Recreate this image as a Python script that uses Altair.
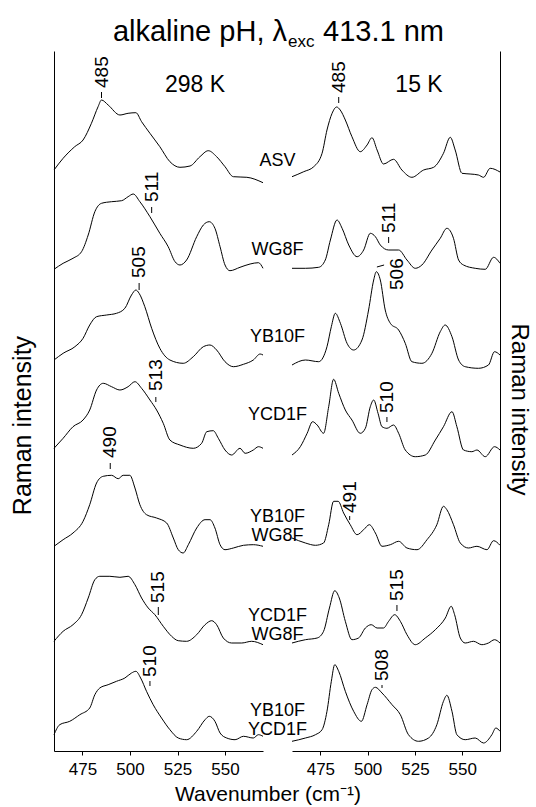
import altair as alt
import pandas as pd

FONT = "Liberation Sans"

# ---- sample rows (top to bottom) ----
SAMPLES = ["ASV", "WG8F", "YB10F", "YCD1F", "YB10F\nWG8F", "YCD1F\nWG8F", "YB10F\nYCD1F"]
ROW_OFFSET = [566, 479, 381, 293, 195, 103, 6]          # vertical stacking offset (intensity units)
LABEL_LEVEL = [590, 501, 414, 336, 234, 135.5, 40.5]     # level of the sample name between panels

# ---- 298 K spectra (wavenumber, intensity) ----
ASV_298_WN = [460, 464.8, 470.9, 475.3, 479.7, 483.2, 485, 488.5, 494.7, 499, 503.1, 506.1, 510.5, 515.7, 521, 526.3, 531.6, 536.8, 541.2, 545.6, 550, 554.4, 561.5, 570]
ASV_298_I = [15, 26.7, 38.3, 45, 61.7, 78.3, 85, 80, 70, 71.7, 72.3, 63.3, 51.7, 38.3, 23.3, 17.7, 19, 28.3, 34.3, 28.3, 18.3, 8.3, 7.7, 2.3]

WG8F_298_WN = [460, 464.8, 470, 474.5, 478, 481.5, 485, 490.3, 495.6, 499, 501.7, 505.2, 510.5, 515.7, 520.1, 523.7, 526.3, 529.8, 535.1, 538.6, 541.7, 544.7, 547.4, 550, 552.6, 557.9, 563.2, 567.6, 570]
WG8F_298_I = [2.7, 8.7, 13.7, 20.3, 37, 60.3, 68.7, 70.3, 71.3, 75.3, 78, 70.3, 55.3, 38.7, 25.3, 10.3, 7, 12, 35.3, 47, 50.3, 43.7, 25.3, 7, 1.3, 4.7, 8, 9.3, 3.7]

YB10F_298_WN = [460, 464.8, 471, 475.3, 478.8, 482.4, 487.7, 492.9, 497.3, 500.8, 503.1, 504.8, 507.8, 511.4, 515.7, 521, 528, 533.3, 538.6, 542.1, 545.6, 550, 554.4, 559.7, 564.9, 568.5, 570]
YB10F_298_I = [10, 16.7, 23.3, 31.7, 45, 53.3, 55, 56.7, 61.7, 75, 80, 76.7, 63.3, 41.7, 21.7, 10, 6.7, 13.3, 23.3, 25, 20, 8.3, 3.3, 5.7, 10, 16, 15]

YCD1F_298_WN = [460, 464.8, 470, 475.3, 478.8, 482.4, 485.9, 490.3, 494.7, 499, 502.6, 506.1, 510.5, 514, 517.5, 521, 526.3, 533.3, 537.7, 540.4, 543.8, 546.5, 550, 553.5, 557.9, 560.6, 564.9, 567.6, 570]
YCD1F_298_I = [9.7, 19.7, 31.3, 38, 48, 68, 74.7, 71.3, 68, 71.3, 76.3, 69.7, 58, 48, 34.7, 18, 13, 9.7, 14.7, 26.3, 27.3, 19.7, 8, 3, 9.7, 4.7, 8, 11.3, 9.7]

YBWG_298_WN = [460, 464.8, 470, 475.3, 478.8, 482.4, 485.9, 490.3, 493.8, 496.4, 499.9, 502.6, 505.2, 508.7, 514, 519.3, 522.8, 525.4, 528, 530.7, 535.1, 539.5, 542.1, 544.7, 547.4, 550, 554.4, 559.7, 564.9, 570]
YBWG_298_I = [9.7, 16.3, 23, 34.7, 51.3, 73, 79.7, 80.7, 77.3, 80.7, 80.7, 68, 51.3, 41.3, 38, 33, 18, 6.3, 3, 11.3, 28, 36.3, 36.3, 28, 11.3, 6.3, 8, 10.7, 11.3, 9.7]

YCWG_298_WN = [460, 464.8, 470, 474.5, 478, 481.5, 484.1, 489.4, 494.7, 499, 502.6, 506.1, 509.6, 513.1, 517.5, 521.9, 525.4, 529.8, 535.1, 539.5, 543, 545.6, 549.1, 553.5, 558.8, 564, 570]
YCWG_298_I = [6.7, 16.7, 23.3, 33.3, 50, 68.3, 71.7, 71.7, 70.7, 71.7, 63.3, 50, 40, 33.3, 21.7, 11.7, 7.3, 6.7, 13.3, 23.3, 27.3, 23.3, 10, 5, 5, 6.7, 3.3]

YBYC_298_WN = [460, 463, 468.3, 473.6, 478.8, 481.5, 484.1, 488.5, 492.9, 497.3, 500.8, 503.1, 505.6, 508.7, 512.2, 516.6, 521, 525.4, 529.8, 535.1, 539.5, 541.7, 544.7, 547.4, 550.9, 555.3, 559.7, 564.9, 567.6, 570]
YBYC_298_I = [10.3, 20.3, 23.7, 30.3, 37, 50.3, 57, 60.3, 63.7, 67, 72, 73.7, 67, 53.7, 40.3, 27, 15.3, 7, 5.3, 13.7, 25.3, 28.7, 23.7, 12, 7, 5.3, 8.7, 7, 10.3, 8.7]

# ---- 15 K spectra (wavenumber, intensity) ----
ASV_15_WN = [460, 466.2, 471.5, 475.9, 478.5, 481.2, 483.6, 485.5, 488.2, 491.7, 496.1, 499.7, 502.3, 505, 508.4, 513.7, 518.1, 523.4, 529.6, 534.9, 540.1, 543.7, 546.3, 549.9, 554.2, 558.6, 561.3, 564.8, 570]
ASV_15_I = [8.3, 13.3, 18.3, 31.7, 55, 71.7, 78, 75, 65, 48.3, 33.3, 40, 47.3, 35, 21, 25.7, 15, 7.7, 15, 17.7, 31.7, 47.7, 35, 11.7, 11, 10, 7.7, 16.7, 13]

WG8F_15_WN = [460, 467.1, 474.1, 477.6, 480.3, 483.8, 486.5, 490, 494.4, 497.9, 501.4, 504.1, 506.7, 511.1, 516.4, 520.8, 525.2, 528.7, 534, 538.4, 541.9, 545.4, 548.1, 550.7, 556.9, 562.2, 566.6, 570]
WG8F_15_I = [3.7, 3.7, 4.7, 12, 32, 52, 43.7, 27, 15.3, 22, 38.7, 35.3, 27, 22, 22, 12, 3.7, 7, 22, 33.7, 43.7, 33.7, 12, 7, 3.7, 2.7, 14.7, 8.7]

YB10F_15_WN = [460, 467.1, 474.1, 478.5, 480.8, 482.9, 485.6, 489.1, 492.6, 497, 500.5, 503.2, 504.6, 506.7, 509.3, 512, 516.4, 519.9, 523.4, 528.7, 534, 538.4, 541, 544.6, 548.1, 551.6, 558.6, 563.9, 567.1, 570]
YB10F_15_I = [5, 10, 8.3, 23.3, 43.3, 56.7, 46.7, 26.7, 20, 30, 60, 90, 98.3, 90, 60, 46.7, 40, 26.7, 8.3, 6.7, 16.7, 38.3, 45, 33.3, 10, 3.3, 1.7, 5, 18.3, 15]

YCD1F_15_WN = [460, 464.4, 468, 470.9, 473.3, 476.7, 479.4, 482, 484.7, 488.2, 491.7, 496.1, 498.8, 501.4, 503.2, 505.5, 507.6, 510.2, 513.7, 516.4, 519.9, 525.2, 530.5, 535.8, 540.1, 544.6, 547.2, 550.7, 555.1, 557.8, 562.2, 567.1, 570]
YCD1F_15_I = [3, 11.3, 24.7, 36.3, 33, 24.7, 51.3, 78.7, 64.7, 48, 38, 24.7, 29.7, 51.3, 58, 44.7, 31.3, 29.7, 33, 24.7, 8, 1.3, 3, 18, 31.3, 46.3, 31.3, 8, 6.3, 8, 1.3, 11.3, 8]

YBWG_15_WN = [460, 467.1, 472.4, 476.7, 479.4, 482, 484.4, 487.3, 490.8, 494.4, 497.9, 500.9, 504.1, 507.6, 512, 516.4, 520.8, 526.1, 531.4, 536.6, 540.1, 541.9, 545.4, 549, 553.3, 557.8, 563.1, 566.6, 570]
YBWG_15_I = [18, 13, 10.7, 13, 31.3, 54.7, 54.7, 43, 31.3, 21.3, 26.3, 31.3, 23, 9.7, 11.3, 14.7, 8, 6.3, 16.3, 31.3, 49.7, 46.3, 31.3, 13, 8, 9.7, 6.3, 15.3, 10.7]

YCWG_15_WN = [460, 467.1, 473.3, 476.7, 479.8, 482.6, 485, 488.2, 491.7, 495.2, 498.8, 501.9, 505, 508.4, 511.1, 514.3, 517.3, 520.8, 525.2, 530.5, 535.8, 541.1, 544.2, 546, 549, 551.6, 556, 560.4, 563.9, 567.1, 570]
YCWG_15_I = [5, 8.3, 10, 16.7, 40, 57.3, 50, 26.7, 8.3, 10, 20, 23.3, 20, 20, 26.7, 33.3, 26.7, 13.3, 3.3, 10, 18.3, 30, 41.7, 33.3, 10, 5, 6.7, 3.3, 5, 8.3, 5]

YBYC_15_WN = [460, 467.1, 472.4, 475.9, 478.5, 480.8, 482.6, 484.7, 488.2, 492.6, 496.7, 499.7, 502.3, 504.1, 507.6, 512.9, 517.3, 521.6, 526.9, 532.2, 536.6, 540.1, 541.9, 544.6, 547.2, 551.6, 556.9, 561.3, 565.7, 567.8, 570]
YBYC_15_I = [3.7, 7, 10.3, 15.3, 33.7, 63.7, 80.3, 73.7, 53.7, 33.7, 23.7, 40.3, 55.3, 57.7, 52, 40.3, 30.3, 10.3, 3.7, 7, 20.3, 43.7, 49.7, 33.7, 10.3, 5.3, 7, 2, 10.3, 17, 13.7]

SPECTRA_298 = [(ASV_298_WN, ASV_298_I), (WG8F_298_WN, WG8F_298_I), (YB10F_298_WN, YB10F_298_I),
               (YCD1F_298_WN, YCD1F_298_I), (YBWG_298_WN, YBWG_298_I), (YCWG_298_WN, YCWG_298_I),
               (YBYC_298_WN, YBYC_298_I)]
SPECTRA_15 = [(ASV_15_WN, ASV_15_I), (WG8F_15_WN, WG8F_15_I), (YB10F_15_WN, YB10F_15_I),
              (YCD1F_15_WN, YCD1F_15_I), (YBWG_15_WN, YBWG_15_I), (YCWG_15_WN, YCWG_15_I),
              (YBYC_15_WN, YBYC_15_I)]

# ---- peak annotations: text, leader x, leader x2, leader y, leader y2, text x, text y ----
PEAKS_298 = [("485", 485, 485, 653, 659, 485, 663),
             ("511", 511.4, 511.4, 538, 544, 511.4, 549),
             ("505", 504.8, 504.8, 461, 468, 504.8, 473),
             ("513", 513.6, 513.6, 349, 354, 513.6, 360),
             ("490", 489.6, 489.6, 282, 288, 489.6, 293),
             ("515", 514.9, 514.9, 136, 144, 514.9, 148),
             ("510", 510.5, 510.5, 65, 70, 510.5, 74)]
PEAKS_15 = [("485", 484.7, 484.7, 648, 654, 484.7, 658),
            ("511", 511.1, 511.1, 508, 514, 511.1, 518),
            ("506", 504.9, 508.7, 484, 486, 515.6, 461),
            ("510", 510.2, 510.2, 329, 334, 510.2, 338),
            ("491", 490.5, 490.5, 231, 235, 490.5, 238),
            ("515", 515.5, 515.5, 140, 146, 515.5, 150),
            ("508", 507.6, 507.6, 63, 66, 507.6, 70)]

X_DOMAIN = [460, 570]
X_TICKS = [475, 500, 525, 550]
Y_DOMAIN = [0, 700]
W_L, W_R, H = 209, 208, 700
PAGE_W, PAGE_H, ORIGIN_X, ORIGIN_Y = 536, 807, 54, 51


def spectra_frame(spectra):
    rows = []
    for k, (wn, inten) in enumerate(spectra):
        for w, v in zip(wn, inten):
            rows.append({"sample": k, "wn": w, "y": ROW_OFFSET[k] + v})
    return pd.DataFrame(rows)


def peaks_frame(peaks):
    return pd.DataFrame(peaks, columns=["text", "x", "x2", "y", "y2", "tx", "ty"])


xs = alt.Scale(domain=X_DOMAIN, nice=False, zero=False)
ys = alt.Scale(domain=Y_DOMAIN, nice=False, zero=False)

x_axis = alt.Axis(values=X_TICKS, title=None, grid=False, tickSize=4, tickColor="black",
                  domainColor="black", labelFontSize=17, labelPadding=6, labelColor="black",
                  labelFont=FONT)


def panel(spectra, peaks, y_axis):
    base = alt.Chart(spectra_frame(spectra))
    lines = base.mark_line(color="black", strokeWidth=1, interpolate="monotone").encode(
        x=alt.X("wn:Q", scale=xs, axis=x_axis),
        y=alt.Y("y:Q", scale=ys, axis=y_axis),
        detail="sample:N",
    )
    pk = alt.Chart(peaks_frame(peaks))
    leaders = pk.mark_rule(color="black", strokeWidth=1).encode(
        x=alt.X("x:Q", scale=xs), x2="x2:Q",
        y=alt.Y("y:Q", scale=ys), y2="y2:Q")
    ptext = pk.mark_text(angle=270, align="left", baseline="middle", fontSize=19,
                         font=FONT, color="black").encode(
        x=alt.X("tx:Q", scale=xs), y=alt.Y("ty:Q", scale=ys), text="text:N")
    return lines, leaders, ptext


left_y_axis = alt.Axis(title="Raman intensity", ticks=False, labels=False, grid=False,
                       domainColor="black", titleFontSize=25, titleFontWeight="normal",
                       titleFont=FONT, titlePadding=19, titleColor="black", titleY=374)
right_y_axis = alt.Axis(title="Raman intensity", orient="right", ticks=False, labels=False,
                        grid=False, domainColor="black", titleFontSize=24,
                        titleFontWeight="normal", titleFont=FONT, titlePadding=6,
                        titleColor="black", titleY=358)

l_lines, l_lead, l_text = panel(SPECTRA_298, PEAKS_298, left_y_axis)
r_lines, r_lead, r_text = panel(SPECTRA_15, PEAKS_15, right_y_axis)

# invisible frame that fixes the page bounds
frame = alt.Chart(pd.DataFrame({"f": [0]})).mark_rect(fillOpacity=0, strokeOpacity=0).encode(
    x=alt.value(-ORIGIN_X), x2=alt.value(PAGE_W - ORIGIN_X),
    y=alt.value(-ORIGIN_Y), y2=alt.value(PAGE_H - ORIGIN_Y))

# sample names between the panels
names = alt.Chart(pd.DataFrame({"name": SAMPLES, "lvl": LABEL_LEVEL})).mark_text(
    align="center", baseline="middle", fontSize=18, font=FONT, lineBreak="\n",
    lineHeight=19, color="black").encode(
    x=alt.value(223.5), y=alt.Y("lvl:Q", scale=ys), text="name:N")

# titles / temperature labels / x title
TITLE_MAIN = "alkaline pH, \u03bb"
TITLE_SUB = "exc"
TITLE_END = "413.1 nm"
t1 = alt.Chart(pd.DataFrame({"t": [TITLE_MAIN]})).mark_text(
    align="right", baseline="alphabetic", fontSize=29, font=FONT, color="black").encode(
    x=alt.value(233), y=alt.value(-10), text="t:N")
t2 = alt.Chart(pd.DataFrame({"t": [TITLE_SUB]})).mark_text(
    align="left", baseline="alphabetic", fontSize=17, font=FONT, color="black").encode(
    x=alt.value(234), y=alt.value(-4), text="t:N")
t3 = alt.Chart(pd.DataFrame({"t": [TITLE_END]})).mark_text(
    align="left", baseline="alphabetic", fontSize=29, font=FONT, color="black").encode(
    x=alt.value(269), y=alt.value(-10), text="t:N")
temp_l = alt.Chart(pd.DataFrame({"t": ["298 K"]})).mark_text(
    align="center", baseline="alphabetic", fontSize=23, font=FONT, color="black").encode(
    x=alt.value(141), y=alt.value(41), text="t:N")
temp_r = alt.Chart(pd.DataFrame({"t": ["15 K"]})).mark_text(
    align="center", baseline="alphabetic", fontSize=23, font=FONT, color="black").encode(
    x=alt.value(127), y=alt.value(41), text="t:N")
xtitle = alt.Chart(pd.DataFrame({"t": ["Wavenumber (cm\u207b\u00b9)"]})).mark_text(
    align="center", baseline="alphabetic", fontSize=21, font=FONT, color="black").encode(
    x=alt.value(214), y=alt.value(750), text="t:N")

left = alt.layer(frame, l_lines, l_lead, l_text, names, t1, t2, t3, temp_l, xtitle).properties(
    width=W_L, height=H)
right = alt.layer(r_lines, r_lead, r_text, temp_r).properties(width=W_R, height=H)

chart = alt.hconcat(left, right, spacing=29, bounds="flush").properties(
    padding=0,
).configure(font=FONT, background="white").configure_view(strokeWidth=0)

chart.save("out.html", embed_options={"renderer": "svg", "actions": False})
